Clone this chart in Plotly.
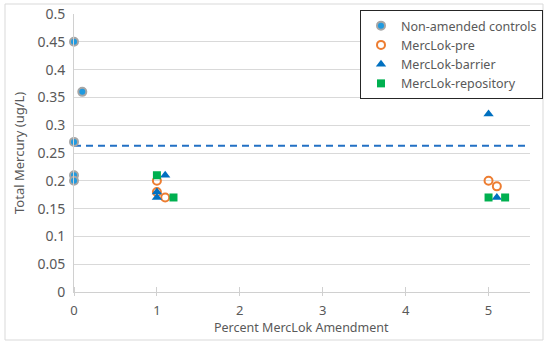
import plotly.graph_objects as go

# Data
ctrl_x = [0, 0, 0, 0, 0.1]
ctrl_y = [0.45, 0.27, 0.21, 0.20, 0.36]
pre_x = [1, 1, 1.1, 5, 5.1]
pre_y = [0.20, 0.18, 0.17, 0.20, 0.19]
bar_x = [1, 1, 1.1, 5, 5.1]
bar_y = [0.18, 0.17, 0.21, 0.32, 0.17]
rep_x = [1, 1.2, 5, 5.2]
rep_y = [0.21, 0.17, 0.17, 0.17]
ref_level = 0.263
ref_x = [0, 5.5]
x_ticks = [0, 1, 2, 3, 4, 5]

FONT = "Noto Sans"
GRAY = "#595959"
PW, PH = 456, 278  # plot area size in px
L, T = 74, 14

fig = go.Figure()
fig.add_trace(go.Scatter(x=ref_x, y=[ref_level] * len(ref_x), mode="lines",
                         line=dict(color="#2270c4", width=2, dash="7px,5px"),
                         showlegend=False, hoverinfo="skip"))
fig.add_trace(go.Scatter(x=ctrl_x, y=ctrl_y, mode="markers", name="Non-amended controls",
                         marker=dict(symbol="circle", size=8, color="#1f9ae0",
                                     line=dict(color="#a6a6a6", width=2)), cliponaxis=False))
fig.add_trace(go.Scatter(x=pre_x, y=pre_y, mode="markers", name="MercLok-pre",
                         marker=dict(symbol="circle-open", size=8, color="#ED7D31",
                                     line=dict(color="#ED7D31", width=2)), cliponaxis=False))
fig.add_trace(go.Scatter(x=bar_x, y=bar_y, mode="markers", name="MercLok-barrier",
                         marker=dict(symbol="triangle-up", size=9, color="#0070C0"),
                         cliponaxis=False))
fig.add_trace(go.Scatter(x=rep_x, y=rep_y, mode="markers", name="MercLok-repository",
                         marker=dict(symbol="square", size=8, color="#00B050"),
                         cliponaxis=False))

fig.update_layout(
    width=550, height=345,
    margin=dict(l=L, r=20, t=T, b=53, autoexpand=False),
    paper_bgcolor="white", plot_bgcolor="white",
    font=dict(family=FONT, size=13, color=GRAY),
    legend=dict(x=(360 - L) / PW, y=1 + (T - 10) / PH, xanchor="left", yanchor="top",
                bordercolor="#262626", borderwidth=1, bgcolor="white",
                font=dict(size=12.5, color=GRAY), tracegroupgap=0,
                itemwidth=30),
    xaxis=dict(range=[0, 5.5], tickvals=x_ticks, showgrid=False, automargin=False,
               zeroline=False, showline=True, linecolor="#d0d0d0", linewidth=1,
               ticks="outside", ticklen=3, tickcolor="#d0d0d0",
               minor=dict(tickmode="array", tickvals=x_ticks, ticks="inside",
                          ticklen=5, tickcolor="#d0d0d0", showgrid=False),
               tickfont=dict(size=13), ticklabelstandoff=3),
    yaxis=dict(range=[0, 0.5], dtick=0.05, tickformat="~g", showgrid=True, automargin=False,
               gridcolor="#d9d9d9", gridwidth=1, zeroline=False,
               showline=True, linecolor="#d0d0d0", linewidth=1, ticks="",
               ticklabeloverflow="allow",
               ticklabelstandoff=5, tickfont=dict(size=14)),
    annotations=[
        dict(text="Percent MercLok Amendment", xref="paper", yref="paper",
             x=(301 - L) / PW, y=-(327 - 292) / PH, xanchor="center", yanchor="middle",
             showarrow=False, font=dict(size=12.5, color=GRAY)),
        dict(text="Total Mercury (ug/L)", xref="paper", yref="paper",
             x=-(L - 19) / PW, y=0.5, xanchor="center", yanchor="middle",
             textangle=-90, showarrow=False, font=dict(size=13, color=GRAY)),
    ],
    shapes=[dict(type="rect", xref="paper", yref="paper",
                 x0=-(L - 5) / PW, x1=1 + (543 - 530) / PW,
                 y0=-(340 - 292) / PH, y1=1 + (T - 4) / PH,
                 line=dict(color="#d9d9d9", width=1))],
)

fig.write_html("out.html", config={"displayModeBar": False},
               post_script="document.body.style.margin='0';")
